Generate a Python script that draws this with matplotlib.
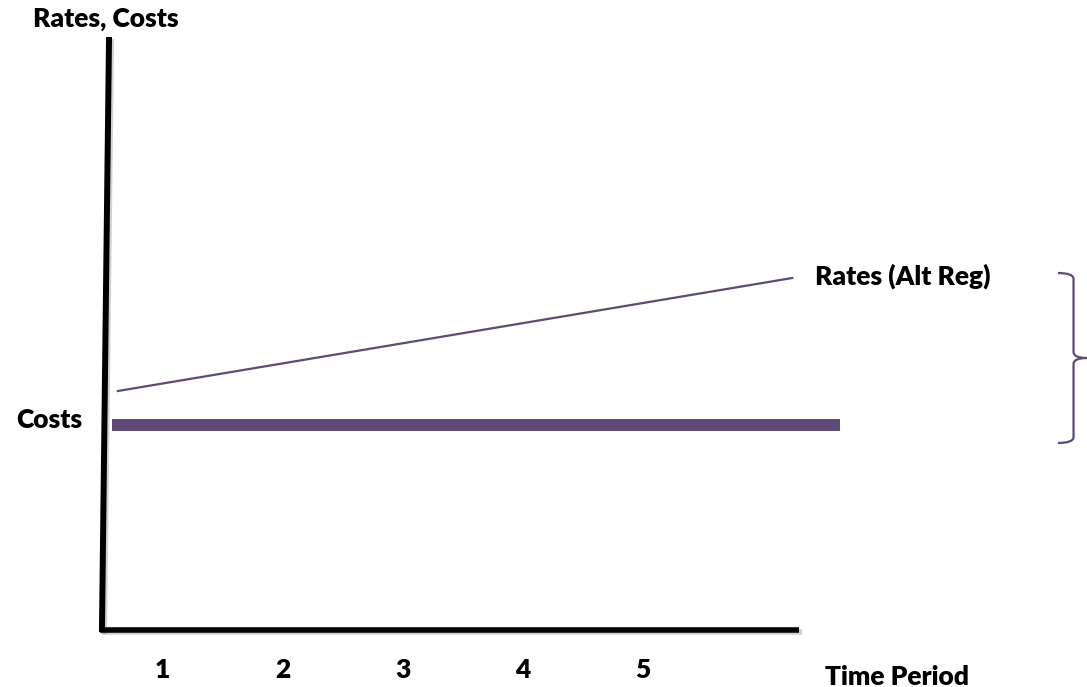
import matplotlib.pyplot as plt
import matplotlib.patheffects as pe
from matplotlib.path import Path
from matplotlib.patches import PathPatch

plt.rcParams['font.family'] = ['Lato', 'DejaVu Sans']

# Datos
periodos = [1, 2, 3, 4, 5]
rates_x = [0.63, 6.24]
rates_y = [11.95, 17.6]
costs_x = [0.58, 6.64]
costs_y = [10.25, 10.25]

morado = "#5F497A"
fuente = dict(fontsize=19, fontweight="heavy", color="black")

fig = plt.figure(figsize=(10.87, 6.87), dpi=100)
ax = fig.add_axes([0, 0, 1, 1])
ax.set_xlim(-0.351, 8.692)
ax.set_ylim(-2.85, 31.5)
ax.axis("off")

# Ejes dibujados a mano (el vertical va un poco inclinado)
sombra = [pe.SimpleLineShadow(offset=(1.5, -1.5), shadow_color="gray", alpha=0.35), pe.Normal()]
ax.plot([0.556, 0.497], [29.65, -0.1], color="black", lw=4.3, solid_capstyle="butt", path_effects=sombra)
ax.plot([0.481, 6.30], [0, 0], color="black", lw=4.0, solid_capstyle="butt", path_effects=sombra)

# Series
ax.plot(costs_x, costs_y, color=morado, lw=8.6, solid_capstyle="butt")
ax.plot(rates_x, rates_y, color=morado, lw=1.6)

# Textos
ax.text(-0.077, 30.15, "Rates, Costs", ha="left", va="baseline", **fuente)
ax.text(0.331, 10.1, "Costs", ha="right", va="baseline", **fuente)
ax.text(6.43, 17.25, "Rates (Alt Reg)", ha="left", va="baseline", **fuente)
ax.text(6.51, -2.75, "Time Period", ha="left", va="baseline", **fuente)
for p in periodos:
    ax.text(p, -2.4, str(p), ha="center", va="baseline", **fuente)

# Llave a la derecha (diferencia entre rates y costs)
x0, x1, x2 = 8.45, 8.58, 8.69
arriba, abajo = 17.85, 9.35
medio = (arriba + abajo) / 2
d = 0.3
verts = [(x0, arriba), (x1, arriba), (x1, arriba - d),
         (x1, medio + d), (x1, medio), (x2, medio),
         (x1, medio), (x1, medio - d),
         (x1, abajo + d), (x1, abajo), (x0, abajo)]
codes = [Path.MOVETO, Path.CURVE3, Path.CURVE3,
         Path.LINETO, Path.CURVE3, Path.CURVE3,
         Path.CURVE3, Path.CURVE3,
         Path.LINETO, Path.CURVE3, Path.CURVE3]
ax.add_patch(PathPatch(Path(verts, codes), fill=False, edgecolor=morado, lw=1.6))

fig.savefig("out.png", dpi=100)
